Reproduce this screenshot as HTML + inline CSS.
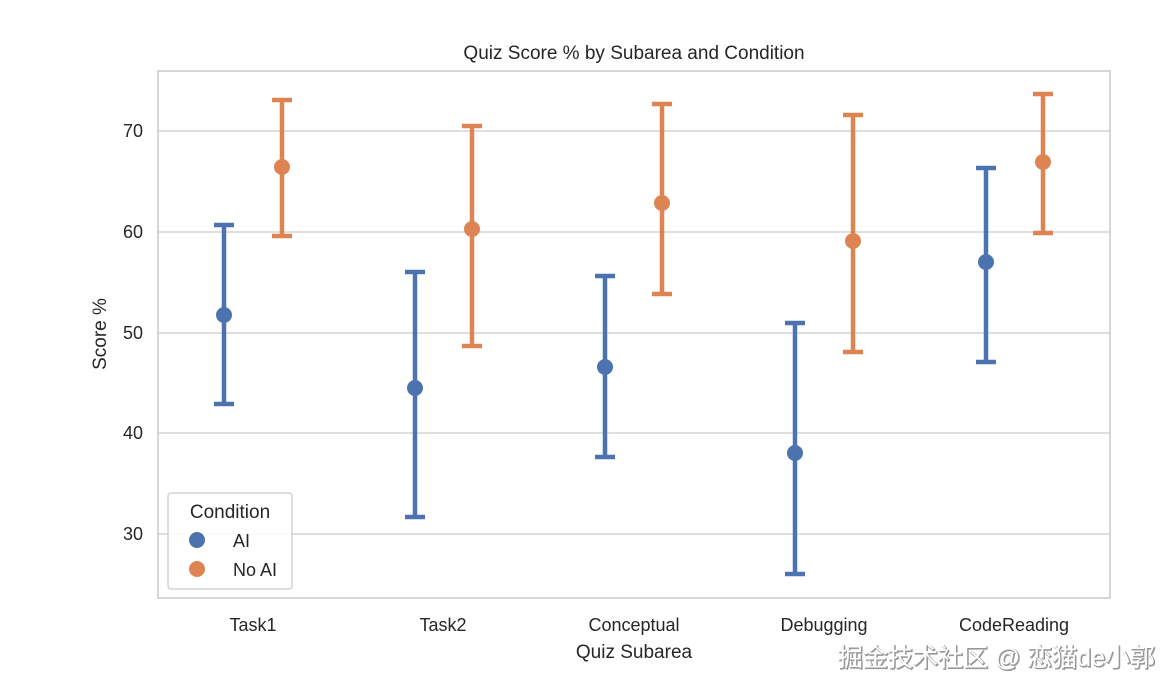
<!DOCTYPE html>
<html><head><meta charset="utf-8"><style>
html,body{margin:0;padding:0;background:#fff;}
svg{display:block;font-family:"Liberation Sans","DejaVu Sans",sans-serif;}
</style></head><body>
<svg width="1175" height="691" viewBox="0 0 1175 691" xmlns="http://www.w3.org/2000/svg">
<rect width="1175" height="691" fill="#fff"/>
<g stroke="#cccccc" stroke-width="1.3">
<line x1="158" y1="131" x2="1110" y2="131"/>
<line x1="158" y1="232" x2="1110" y2="232"/>
<line x1="158" y1="333" x2="1110" y2="333"/>
<line x1="158" y1="433" x2="1110" y2="433"/>
<line x1="158" y1="534" x2="1110" y2="534"/>
</g>
<rect x="158" y="71" width="952" height="527" fill="none" stroke="#cccccc" stroke-width="1.6"/>
<g font-size="18" fill="#262626" text-anchor="end">
<text x="143" y="137">70</text><text x="143" y="238">60</text><text x="143" y="339">50</text><text x="143" y="439">40</text><text x="143" y="540">30</text>
</g>
<g font-size="18" fill="#262626" text-anchor="middle">
<text x="253" y="631">Task1</text><text x="443" y="631">Task2</text><text x="634" y="631">Conceptual</text><text x="824" y="631">Debugging</text><text x="1014" y="631">CodeReading</text>
<text x="634" y="658" font-size="19">Quiz Subarea</text>
<text x="634" y="59" font-size="19">Quiz Score % by Subarea and Condition</text>
<text x="0" y="0" font-size="19" transform="translate(106 334) rotate(-90)">Score %</text>
</g>
<g stroke="#4c72b0" stroke-width="4.5" fill="#4c72b0">
<path d="M224 404V225M214 404H234M214 225H234"/>
<path d="M415 517V272M405 517H425M405 272H425"/>
<path d="M605 457V276M595 457H615M595 276H615"/>
<path d="M795 574V323M785 574H805M785 323H805"/>
<path d="M986 362V168M976 362H996M976 168H996"/>
</g>
<g fill="#4c72b0">
<circle cx="224" cy="315" r="8"/><circle cx="415" cy="388" r="8"/><circle cx="605" cy="367" r="8"/><circle cx="795" cy="453" r="8"/><circle cx="986" cy="262" r="8"/>
</g>
<g stroke="#dd8452" stroke-width="4.5" fill="none">
<path d="M282 236V100M272 236H292M272 100H292"/>
<path d="M472 346V126M462 346H482M462 126H482"/>
<path d="M662 294V104M652 294H672M652 104H672"/>
<path d="M853 352V115M843 352H863M843 115H863"/>
<path d="M1043 233V94M1033 233H1053M1033 94H1053"/>
</g>
<g fill="#dd8452">
<circle cx="282" cy="167" r="8"/><circle cx="472" cy="229" r="8"/><circle cx="662" cy="203" r="8"/><circle cx="853" cy="241" r="8"/><circle cx="1043" cy="162" r="8"/>
</g>
<rect x="168" y="493" width="124" height="96" rx="3" fill="#fff" fill-opacity="0.85" stroke="#cccccc" stroke-width="1.3"/>
<text x="230" y="518" font-size="19" fill="#262626" text-anchor="middle">Condition</text>
<circle cx="197" cy="540" r="8" fill="#4c72b0"/>
<text x="233" y="547" font-size="18" fill="#262626">AI</text>
<circle cx="197" cy="569" r="8" fill="#dd8452"/>
<text x="233" y="576" font-size="18" fill="#262626">No AI</text>
<g font-size="25" text-anchor="end" font-family="'Liberation Sans','Noto Sans CJK SC',sans-serif">
<text x="1156" y="667" fill="#999" stroke="#999" stroke-width="1.2">掘金技术社区 @ 恋猫de小郭</text>
<text x="1155" y="666" fill="#fff">掘金技术社区 @ 恋猫de小郭</text>
</g>
</svg>
</body></html>
